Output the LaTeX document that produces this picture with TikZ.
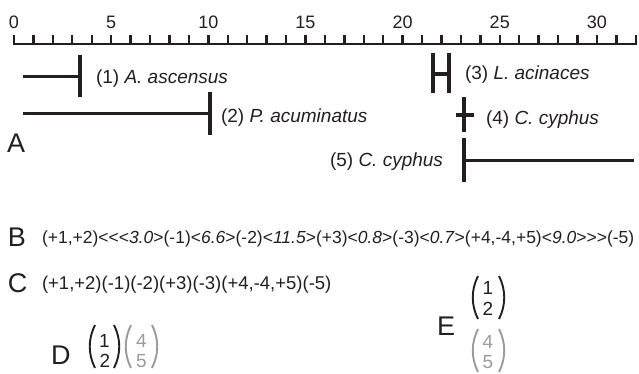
\documentclass[tikz,border=0pt]{standalone}
\usepackage{fontspec}
\setmainfont{Liberation Sans}
\definecolor{ink}{RGB}{35,31,32}
\definecolor{pale}{RGB}{155,155,155}
\newcommand\parpair[4]{%
  \draw[parenline] (#1,#3) .. controls ({#1-7},{#3+14}) and ({#1-7},{#4-14}) .. (#1,#4);
  \draw[parenline] (#2,#3) .. controls ({#2+7},{#3+14}) and ({#2+7},{#4-14}) .. (#2,#4);}
\begin{document}
\begin{tikzpicture}[x=1pt,y=-1pt,
  every node/.style={inner sep=0pt,outer sep=0pt,text=ink},
  rulerline/.style={draw=ink,line width=2.8pt},
  tickline/.style={draw=ink,line width=2.4pt},
  rangeline/.style={draw=ink,line width=3pt},
  barline/.style={draw=ink,line width=4.6pt},
  parenline/.style={draw=ink,line width=1.9pt},
  rulerlbl/.style={anchor=base,font=\fontsize{18}{20}\selectfont},
  species/.style={font=\fontsize{19}{21}\selectfont},
  bigletter/.style={anchor=base west,font=\fontsize{27}{29}\selectfont},
  digit/.style={anchor=base,font=\fontsize{19}{21}\selectfont}]
\useasboundingbox (0,0) rectangle (639,373);
% ruler
\draw[rulerline] (14,44) -- (636,44);
\foreach \i in {0,...,32} \draw[tickline] ({14+19.43*\i},35) -- ({14+19.43*\i},44.5);
\foreach \i in {0,5,...,30} \node[rulerlbl] (r\i) at ({14+19.43*\i},28) {\i};
% (1)
\draw[rangeline] (23,76) -- (80,76);
\draw[barline] (80,55) -- (80,97);
\node[species,anchor=base west] (s1) at (96,83) {(1) \textit{A. ascensus}};
% (2)
\draw[rangeline] (23,113) -- (210,113);
\draw[barline] (210,92) -- (210,135);
\node[species,anchor=base west] (s2) at (221,122) {(2) \textit{P. acuminatus}};
% (3)
\draw[barline] (433,53) -- (433,93);
\draw[barline] (449,53) -- (449,93);
\draw[barline] (433,74) -- (449,74);
\node[species,anchor=base west] (s3) at (465,79) {(3) \textit{L. acinaces}};
% (4)
\draw[barline] (464,97) -- (464,132);
\draw[barline] (456,115) -- (474,115);
\node[species,anchor=base west] (s4) at (486,124) {(4) \textit{C. cyphus}};
% (5)
\draw[barline] (464,138) -- (464,182);
\draw[rangeline] (464,160) -- (634,160);
\node[species,anchor=base east] (s5) at (443,166) {(5) \textit{C. cyphus}};
% letters
\node[bigletter] (A) at (7,152) {A};
\node[bigletter] (B) at (8,246) {B};
\node[bigletter] (C) at (8,292) {C};
\node[bigletter] (D) at (51,364) {D};
\node[bigletter] (E) at (437,335) {E};
% B and C lines
\node[anchor=base west,font=\fontsize{17.5}{20}\selectfont] (Bt) at (42,243)
  {(+1,+2)<{}<{}<\textit{3.0}>(-1)<\textit{6.6}>(-2)<\textit{11.5}>(+3)<\textit{0.8}>(-3)<\textit{0.7}>(+4,-4,+5)<\textit{9.0}>{}>{}>(-5)};
\node[anchor=base west,font=\fontsize{18.5}{20}\selectfont] (Ct) at (42,289)
  {(+1,+2)(-1)(-2)(+3)(-3)(+4,-4,+5)(-5)};
% D
\parpair{95}{114}{325}{368}
\node[digit] (d1) at (104.5,347) {1};
\node[digit] (d2) at (105,367) {2};
\begin{scope}[parenline/.style={draw=pale,line width=1.9pt}]
\parpair{131}{152}{325}{368}
\end{scope}
\node[digit,text=pale] (d4) at (141.5,347) {4};
\node[digit,text=pale] (d5) at (141.5,367) {5};
% E
\parpair{478}{499}{276}{319}
\node[digit] (e1) at (488,294) {1};
\node[digit] (e2) at (488,315) {2};
\begin{scope}[parenline/.style={draw=pale,line width=1.9pt}]
\parpair{478}{499}{329}{372}
\end{scope}
\node[digit,text=pale] (e4) at (488,348) {4};
\node[digit,text=pale] (e5) at (488,368) {5};
\end{tikzpicture}
\end{document}
